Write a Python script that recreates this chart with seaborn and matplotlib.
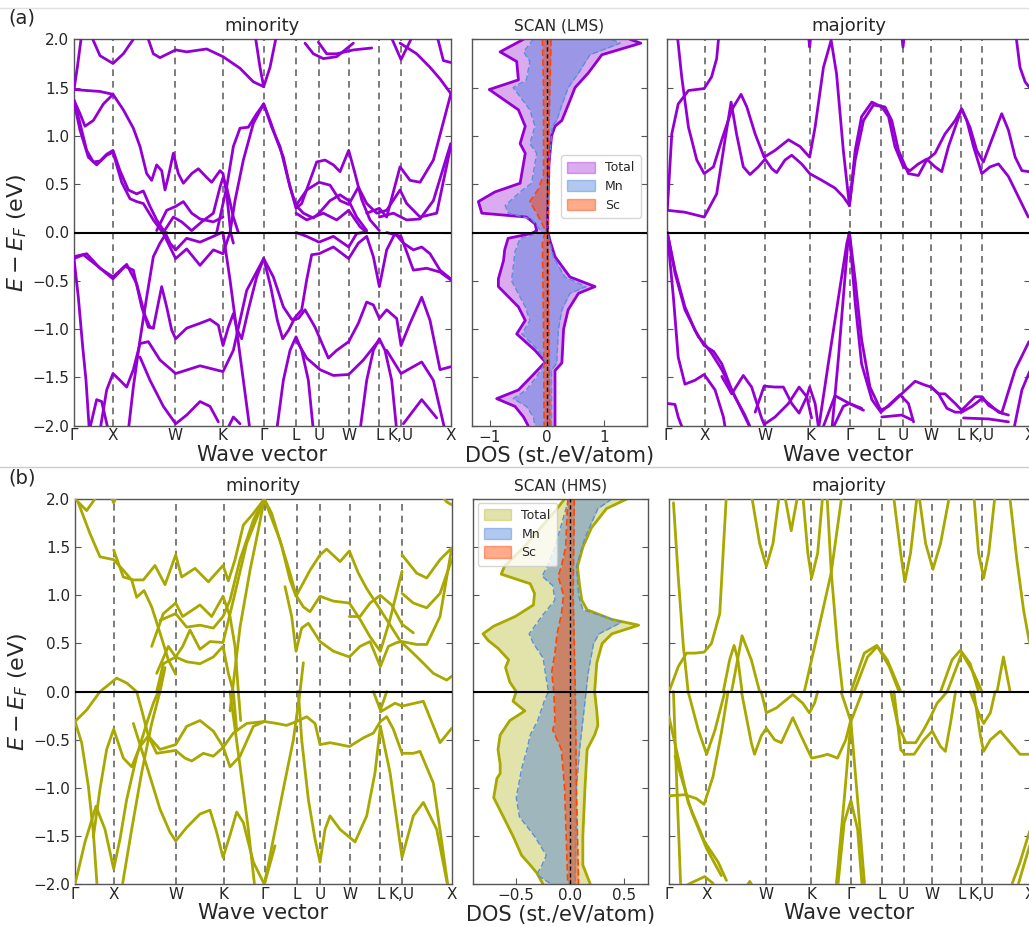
import matplotlib
matplotlib.use("Agg")
import matplotlib.pyplot as plt
import numpy as np
import pandas as pd
import seaborn as sns
from matplotlib.patches import Patch
from matplotlib.lines import Line2D

sns.set_style("white")
plt.rcParams['font.family'] = ['DejaVu Sans']
plt.rcParams['mathtext.fontset'] = 'dejavusans'
plt.rcParams['lines.solid_joinstyle'] = 'round'
plt.rcParams['lines.solid_capstyle'] = 'round'

# ---------------- k-path -----------------
kticks = [0, 1.17, 3.04, 4.46, 5.69, 6.66, 7.35, 8.24, 9.16, 9.81, 11.30]
klabels = ['Γ', 'X', 'W', 'K', 'Γ', 'L', 'U', 'W', 'L', 'K,U', 'X']
eticks = [-2.0, -1.5, -1.0, -0.5, 0.0, 0.5, 1.0, 1.5, 2.0]

# ---------------- bands (k, E) : (a) SCAN LMS minority -----------------
bands_min_a = [
    [(0,1.48),(.38,1.47),(.78,1.46),(1.17,1.43),(1.48,1.27),(1.78,1.08),(1.98,.89),(2.18,.61),(2.33,.54),(2.48,.70),(2.63,.64),(2.73,.44),(2.83,.58),(2.98,.82),(3.13,.61),(3.28,.51),(3.53,.61),(3.73,.66),(3.98,.57),(4.13,.52),(4.38,.64),(4.47,.61),(4.58,.40),(4.70,0.0),(4.78,-.11)],
    [(0,1.48),(.10,1.71),(.23,2.05)],
    [(0,1.37),(.18,1.23),(.33,1.10),(.58,1.16),(.88,1.33),(1.17,1.43)],
    [(.50,2.05),(.78,1.83),(1.17,1.75),(1.48,1.85),(1.88,2.05)],
    [(2.18,2.05),(2.38,1.85),(2.58,1.81),(3.05,1.89),(3.38,1.87),(3.98,1.90),(4.47,1.82),(4.98,1.70),(5.38,1.56),(5.69,1.51)],
    [(5.43,2.05),(5.58,1.71),(5.69,1.51),(5.88,1.71),(6.08,2.05)],
    [(6.93,1.96),(7.18,1.85),(7.48,1.80),(7.88,1.82),(8.38,1.96)],
    [(7.33,1.97),(7.58,1.85),(7.88,1.85),(8.38,1.89),(8.93,1.91)],
    [(9.78,1.96),(10.28,1.85),(10.68,1.71),(10.98,1.59),(11.30,1.44)],
    [(9.48,2.05),(9.81,1.79),(10.18,2.05)],
    [(10.88,2.05),(11.08,1.78),(11.30,1.76)],
    [(0,1.37),(.18,1.13),(.38,.85),(.58,.73),(.78,.74),(.98,.81),(1.17,.85),(1.38,.64),(1.63,.44),(1.88,.40),(2.08,.43),(2.28,.27),(2.48,.13),(2.73,0.0),(2.88,-.11),(3.05,-.18),(3.38,-.06),(3.78,-.10),(4.18,-.04),(4.43,0.0)],
    [(0,1.35),(.18,1.06),(.43,.78),(.68,.70),(.98,.80),(1.17,.83),(1.43,.52),(1.68,.35),(1.88,.32),(2.08,.30),(2.38,.13),(2.68,-.01),(3.05,-.27),(3.38,-.17),(3.78,-.34),(4.18,-.18),(4.47,-.22),(4.68,0.0),(4.83,.33),(5.08,.75),(5.38,1.13),(5.69,1.33)],
    [(2.48,.02),(2.78,.23),(3.05,.27),(3.28,.32),(3.53,.20),(3.78,.14),(4.18,.11),(4.47,.16)],
    [(2.68,0.0),(2.98,.16),(3.23,.11),(3.53,.02),(3.83,.11),(4.18,.20),(4.38,.47),(4.47,.57),(4.58,.47),(4.78,.16),(4.93,0.0)],
    [(4.28,0.0),(4.58,.47),(4.78,.89),(4.98,1.08),(5.23,1.09),(5.48,1.23),(5.69,1.33)],
    [(5.69,1.33),(5.88,1.16),(6.08,.96),(6.28,.78),(6.48,.47),(6.66,.28),(6.88,.20),(7.18,.15),(7.35,.20),(7.68,.33),(7.98,.39),(8.24,.33),(8.48,.16),(8.78,.02)],
    [(5.69,1.33),(5.93,1.09),(6.18,.89),(6.43,.54),(6.66,.25),(6.83,.30),(7.08,.54),(7.28,.73),(7.53,.75),(7.78,.70),(7.98,.63),(8.24,.85),(8.43,.61),(8.63,.34),(8.88,.13),(9.16,.02)],
    [(6.66,.28),(6.98,.44),(7.35,.52),(7.68,.49),(7.98,.33),(8.24,.29),(8.53,.47),(8.78,.30),(9.08,.20),(9.38,.23),(9.78,.44),(9.98,.30),(10.38,.16),(10.88,.20),(11.30,.89)],
    [(8.78,.20),(9.16,.25),(9.38,.16),(9.78,.68),(10.08,.54),(10.38,.52),(10.78,.75),(11.30,1.43)],
    [(9.16,.16),(9.58,.20),(9.98,.13),(10.38,.14),(10.78,.33),(11.30,.92)],
    [(6.66,.20),(6.98,.13),(7.48,.20),(7.88,.13),(8.24,.23),(8.58,.06),(8.78,0.0)],
    [(0,-.27),(.13,-.67),(.26,-1.18),(.36,-1.53),(.46,-2.05)],
    [(0,-.27),(.28,-.23),(.68,-.34),(1.17,-.48),(1.53,-.35),(1.78,-.39),(2.03,-.77),(2.23,-.98),(2.38,-.99),(2.53,-.73),(2.63,-.56),(2.78,-.77),(2.93,-1.01),(3.05,-1.10),(3.38,-.99),(3.78,-.94),(4.08,-.90),(4.33,-.96),(4.47,-1.17),(4.63,-.98),(4.78,-.84),(4.90,-1.01),(5.03,-1.10),(5.23,-.80),(5.48,-.46),(5.69,-.27)],
    [(0,-.25),(.38,-.22),(.78,-.37),(1.17,-.46),(1.58,-.33),(1.88,-.53),(2.13,-.86),(2.28,-.98),(2.38,-.99)],
    [(1.63,-2.05),(1.78,-1.60),(1.98,-1.11),(2.18,-.67),(2.38,-.25),(2.58,-.11),(2.78,0.0)],
    [(.46,-2.05),(.68,-1.73),(.83,-1.75),(1.03,-2.05)],
    [(.78,-2.05),(.98,-1.63),(1.17,-1.46),(1.38,-1.53),(1.58,-1.60),(1.78,-1.42),(1.98,-1.15),(2.23,-1.13),(2.58,-1.32),(3.05,-1.46),(3.78,-1.38),(4.47,-1.44),(4.78,-1.22),(5.18,-.60),(5.69,-.27)],
    [(1.98,-1.29),(2.28,-1.53),(2.68,-1.80),(3.05,-1.98),(3.38,-1.89),(3.78,-1.75),(4.08,-1.80),(4.33,-1.96)],
    [(4.58,-2.05),(4.78,-1.91),(4.98,-1.98)],
    [(4.47,0.0),(4.68,-.49),(4.88,-1.01),(5.08,-1.53),(5.28,-2.05)],
    [(6.08,-2.05),(6.28,-1.53),(6.48,-1.22),(6.66,-1.08),(6.83,-1.22),(7.03,-1.53),(7.18,-2.05)],
    [(8.58,-2.05),(8.78,-1.53),(8.98,-1.22),(9.16,-1.10),(9.33,-1.22),(9.53,-1.53),(9.68,-2.05)],
    [(6.66,-1.11),(6.98,-1.30),(7.38,-1.42),(7.78,-1.48),(8.24,-1.47),(8.68,-1.32),(9.16,-1.11)],
    [(5.69,-.27),(5.98,-.46),(6.28,-.77),(6.53,-.90),(6.73,-.89),(6.93,-.80),(7.23,-.98),(7.48,-1.18),(7.63,-1.30),(7.88,-1.22),(8.24,-1.13),(8.53,-.94),(8.78,-.72),(8.98,-.75),(9.16,-.89),(9.38,-.80),(9.68,-.89),(9.81,-1.17),(10.08,-.94),(10.43,-.67),(10.68,-.91),(10.98,-1.42),(11.30,-1.39)],
    [(5.69,-.27),(5.90,-.56),(6.10,-.91),(6.26,-1.10),(6.44,-1.01),(6.63,-.88),(6.83,-.80),(6.98,-.49),(7.13,-.23),(7.35,-.22),(7.78,-.15),(8.24,-.27),(8.53,-.11),(8.78,-.04),(8.98,-.25),(9.16,-.56),(9.38,-.18),(9.63,-.01),(9.88,-.11),(10.18,-.18),(10.43,-.15),(10.68,-.22),(10.98,-.39),(11.30,-.48)],
    [(6.66,0.0),(6.98,-.04),(7.35,-.10),(7.78,-.04),(8.24,-.15),(8.48,-.01),(8.68,0.0)],
    [(9.38,0.0),(9.81,-.04),(10.18,-.39),(10.58,-.37),(10.98,-.41),(11.30,-.49)],
    [(9.88,-1.98),(10.43,-1.73),(10.88,-1.92)],
    [(9.38,-1.22),(9.81,-1.46),(10.43,-1.34),(10.78,-1.53),(11.13,-2.05)],
]

# ---------------- (a) majority -----------------
bands_maj_a = [
    [(0,.23),(.55,.21),(1.15,.16),(1.54,.40),(1.80,.96),(1.99,1.35),(2.16,1.02),(2.37,.68),(2.58,.60),(2.84,.68),(3.05,.76),(3.26,.66),(3.41,.62),(3.67,.75),(3.88,.80),(4.19,.71),(4.44,.61),(4.82,.54),(5.23,.46),(5.49,.37),(5.68,.28)],
    [(.31,2.05),(.45,1.61),(.66,1.09),(.92,.75),(1.15,.61),(1.44,.68),(1.70,.96),(2.01,1.27),(2.30,1.43),(2.48,1.30),(2.74,1.02),(3.02,.78),(3.36,.85),(3.78,.96),(4.14,.89),(4.44,.78),(4.61,1.09),(4.87,1.71),(5.11,1.99),(5.28,1.64),(5.49,.85),(5.68,.28)],
    [(0,.23),(.14,1.02),(.34,1.33),(.66,1.47),(1.15,1.49),(1.38,1.61),(1.54,1.80),(1.61,2.05)],
    [(5.68,.28),(5.86,.85),(6.06,1.20),(6.38,1.35),(6.69,1.30),(6.90,1.20),(7.10,.89),(7.36,.68),(7.57,.64),(7.83,.71),(8.09,.76),(8.35,.68),(8.56,.63),(8.77,.89),(8.98,1.09),(9.18,1.28),(9.34,1.16),(9.55,.89),(9.81,.61),(10.07,.68),(10.33,.71),(10.64,.58),(10.95,.37),(11.26,.16)],
    [(5.68,.28),(5.86,.75),(6.12,1.16),(6.43,1.32),(6.79,1.30),(7.00,1.16),(7.21,.85),(7.52,.61),(7.83,.59),(8.09,.75),(8.35,.82),(8.66,1.02),(8.98,1.16),(9.18,1.28),(9.44,1.09),(9.65,.85),(9.86,.73),(10.12,.96),(10.43,1.23),(10.64,1.06),(10.85,.78),(11.06,.64),(11.28,.63)],
    [(10.87,2.05),(11.0,1.71),(11.16,1.56),(11.30,1.50)],
    [(4.40,2.05),(4.44,1.92),(4.48,2.05)],
    [(7.31,2.05),(7.35,1.92),(7.40,2.05)],
    [(0,0.0),(.24,-.39),(.55,-.77),(.86,-1.01),(1.15,-1.17),(1.44,-1.23),(1.70,-1.36),(2.01,-1.63),(2.32,-1.84),(2.63,-2.05)],
    [(0,0.0),(.24,-.42),(.55,-.80),(.97,-1.08),(1.15,-1.15),(1.38,-1.25),(1.70,-1.42),(2.11,-1.70),(2.42,-1.89),(2.63,-2.05)],
    [(0,0.0),(.19,-.67),(.34,-1.29),(.55,-1.57),(.86,-1.53),(1.15,-1.47),(1.49,-1.63),(1.75,-1.91),(1.82,-2.05)],
    [(0,-1.77),(.24,-1.78),(.34,-1.91),(.50,-2.05)],
    [(1.70,-1.49),(2.01,-1.67),(2.37,-1.48),(2.63,-1.60),(2.94,-1.92),(3.10,-2.05)],
    [(2.74,-1.86),(3.02,-1.59),(3.36,-1.60),(3.62,-1.60),(3.88,-1.77),(4.11,-1.87),(4.35,-1.70),(4.44,-1.60),(4.61,-1.77),(4.73,-2.05)],
    [(3.05,-1.98),(3.36,-1.91),(3.78,-1.77),(4.11,-1.60),(4.35,-1.70),(4.50,-1.92)],
    [(4.82,-2.05),(5.23,-1.69),(5.68,-1.77),(6.12,-1.84)],
    [(5.13,-2.05),(5.49,-1.80),(5.68,-1.77),(6.06,-1.82)],
    [(4.71,-2.05),(5.02,-1.36),(5.34,-.67),(5.60,-.11),(5.68,0.0)],
    [(5.13,-2.05),(5.34,-1.29),(5.49,-.67),(5.63,-.11),(5.68,0.0)],
    [(5.68,0.0),(5.86,-.49),(6.06,-1.11),(6.32,-1.60),(6.66,-1.84),(6.90,-1.80),(7.31,-1.67),(7.73,-1.54),(8.04,-1.58),(8.23,-1.60),(8.46,-1.67),(8.66,-1.67),(8.98,-1.77),(9.18,-1.84),(9.60,-1.70),(9.82,-1.70),(10.02,-1.79),(10.43,-1.87),(10.85,-1.42),(11.28,-1.13)],
    [(5.68,-.01),(5.86,-.73),(6.06,-1.36),(6.38,-1.73),(6.66,-1.86),(6.90,-1.79),(7.26,-1.68),(7.52,-1.77),(7.68,-1.96)],
    [(8.23,-1.60),(8.46,-1.67),(8.72,-1.82),(8.98,-1.86),(9.18,-1.86),(9.50,-1.80),(9.81,-1.72),(10.02,-1.77),(10.33,-1.86),(10.64,-1.89)],
    [(10.80,-2.05),(11.06,-1.63),(11.30,-1.44)],
    [(6.69,-1.91),(7.31,-1.89),(7.63,-1.94)],
    [(9.24,-1.92),(10.02,-1.93),(10.64,-1.96)],
]

# ---------------- (b) SCAN HMS minority -----------------
bands_min_b = [
    [(0,2.0),(.35,1.88),(.70,2.05)],
    [(1.05,2.05),(1.16,1.96),(1.27,2.05)],
    [(.10,1.96),(.45,1.64),(.75,1.40),(1.16,1.37),(1.45,1.26),(1.70,1.16),(1.85,.98),(2.07,1.05),(2.30,.88),(2.55,.61),(2.80,.33),(3.02,.18)],
    [(1.16,1.47),(1.45,1.19),(1.75,1.16),(2.05,1.16),(2.40,1.31),(2.70,1.11),(3.02,1.42),(3.20,1.19),(3.60,1.28),(4.00,1.14),(4.44,1.31),(4.60,1.15),(4.80,1.37),(5.05,1.73),(5.35,1.85),(5.68,2.0)],
    [(2.30,.47),(2.65,.81),(3.02,.92),(3.23,.78),(3.75,.90),(4.10,.78),(4.44,.99),(4.65,.78),(4.80,.47),(4.90,0.0),(4.97,-.3)],
    [(2.55,.74),(3.02,.81),(3.35,.67),(3.75,.69),(4.15,.66),(4.44,.78),(4.65,.95),(4.95,1.37),(5.35,1.78),(5.68,2.0)],
    [(2.45,.19),(2.80,.47),(3.02,.36),(3.23,.47),(3.45,.64),(3.75,.44),(4.05,.52),(4.44,.51),(4.75,.95),(5.15,1.54),(5.68,2.0)],
    [(2.45,0.0),(2.65,.29),(3.02,.36),(3.35,.31),(3.75,.29),(4.15,.36),(4.44,.47),(4.60,.19),(4.75,0.0),(4.85,-.4)],
    [(4.65,-.2),(4.72,0.0),(4.95,.67),(5.25,1.26),(5.50,1.68),(5.68,2.0)],
    [(5.68,2.0),(6.15,1.57),(6.45,1.23),(6.63,1.00),(6.85,.88),(7.05,.83),(7.35,.99),(7.75,.94),(8.23,.92),(8.55,.75),(8.85,.57),(9.16,.42),(9.45,.75),(9.81,1.25)],
    [(5.68,2.0),(5.90,1.85),(6.20,1.51),(6.45,1.16),(6.63,.99),(7.05,1.26),(7.35,1.42),(7.55,1.48),(7.95,1.35),(8.23,1.46),(8.50,1.23),(8.75,1.07),(9.16,.85),(9.75,.53),(10.35,.33),(10.75,.19),(11.15,.12),(11.30,.16)],
    [(6.30,1.09),(6.50,.78),(6.63,.42),(6.80,.66),(7.00,.71),(7.35,.52),(7.75,.42),(8.23,.36),(8.55,.47),(8.85,.52),(9.16,.26),(9.40,.47),(9.65,.51),(9.81,.52),(10.25,.49),(10.55,.49),(10.95,.78),(11.30,1.49)],
    [(8.23,.78),(8.55,.78),(8.85,.92),(9.16,1.0),(9.50,.90),(9.81,.70),(10.15,.61)],
    [(9.81,1.42),(10.25,1.23),(10.55,1.18),(10.95,1.37),(11.30,1.49)],
    [(9.81,1.02),(10.15,.92),(10.55,.87),(10.95,1.02),(11.30,1.37)],
    [(10.95,2.05),(11.15,1.97),(11.30,1.94)],
    [(0,-.31),(.20,-.53),(.40,-.98),(.55,-1.46),(.67,-2.05)],
    [(0,-.31),(.35,-.19),(.75,0.0),(1.25,.14),(1.55,.09),(1.85,0.0),(2.0,-.19),(2.2,-.46),(2.45,-.64),(3.02,-.61),(3.30,-.69),(3.50,-.72),(3.85,-.64),(4.15,-.67),(4.44,-.58),(4.75,-.43),(5.15,-.33),(5.68,-.31)],
    [(0,-2.0),(.30,-1.56),(.63,-1.19),(.90,-1.43),(1.16,-1.84),(1.35,-1.53),(1.55,-1.12),(1.85,-.67),(2.15,-.33),(2.35,-.12),(2.50,0.0),(2.65,.19)],
    [(.55,-1.51),(.75,-1.01),(.95,-.60),(1.16,-.39),(1.45,-.69),(1.70,-.78),(1.95,-.57),(2.20,-.46),(2.55,-.60),(3.02,-.55),(3.35,-.36),(3.75,-.30),(4.15,-.41),(4.44,-.57),(4.65,-.78),(4.95,-.67),(5.35,-.36),(5.68,-.31)],
    [(1.75,-.33),(2.15,-.77),(2.55,-1.22),(2.85,-1.46),(3.02,-1.55),(3.35,-1.41),(3.75,-1.27),(4.05,-1.23),(4.25,-1.46),(4.44,-1.72),(4.65,-1.49),(4.85,-1.25),(5.05,-1.36),(5.35,-1.77),(5.68,-2.0),(6.0,-1.6)],
    [(1.40,-2.05),(1.70,-1.43),(2.00,-.84),(2.30,-.33),(2.55,0.0),(2.70,.25)],
    [(4.65,0.0),(4.95,-.77),(5.20,-1.43),(5.40,-2.05)],
    [(5.68,-2.0),(5.95,-1.53),(6.25,-1.01),(6.55,-.50),(6.75,0.0),(6.85,.3)],
    [(5.68,-.31),(6.05,-.33),(6.35,-.35),(6.65,-.31),(6.95,-.26),(7.20,-.33),(7.35,-.55),(7.65,-.53),(7.95,-.55),(8.23,-.57),(8.65,-.48),(8.95,-.43),(9.16,-.31)],
    [(6.70,0.0),(6.80,-.50),(7.00,-1.12),(7.20,-1.53),(7.35,-1.77),(7.50,-1.43),(7.65,-1.29),(7.95,-1.43),(8.23,-1.51),(8.40,-1.56),(8.75,-1.29),(9.00,-.84),(9.16,-.36)],
    [(9.16,-.36),(9.45,-.84),(9.81,-1.72),(10.15,-1.29),(10.45,-1.15),(10.85,-1.43),(11.20,-2.05)],
    [(9.16,-.31),(9.35,-.26),(9.55,-.39),(9.81,-.64),(10.15,-.64),(10.35,-.62),(10.75,-.95),(11.20,-2.05)],
    [(9.16,-.21),(9.60,-.12),(9.81,-.15),(10.45,-.10),(10.95,-.53),(11.30,-.38)],
    [(8.95,0.0),(9.16,-.19),(9.35,0.0)],
]

# ---------------- (b) majority -----------------
bands_maj_b = [
    [(.14,1.96),(.29,1.19),(.45,.47),(.60,0.0),(.92,-.40),(1.18,-.65),(1.44,-.40),(1.75,0.0)],
    [(0,0.0),(.29,.26),(.55,.40),(.81,.40),(1.10,.41),(1.33,.50),(1.59,.81),(1.80,2.05)],
    [(1.70,0.0),(1.90,.33),(2.04,.48),(2.16,.33),(2.29,0.0)],
    [(1.96,0.0),(2.29,.58),(2.58,.33),(2.84,0.0)],
    [(2.58,2.05),(2.84,1.54),(3.05,1.30),(3.26,1.54),(3.46,2.05)],
    [(3.62,2.05),(3.83,1.67),(4.04,2.05)],
    [(4.19,2.05),(4.35,1.44),(4.47,1.18),(4.66,1.44),(4.82,2.05)],
    [(4.24,0.0),(4.66,.61),(5.08,1.23),(5.39,1.97),(5.42,2.05)],
    [(4.95,2.05),(5.08,1.26),(5.28,.47),(5.44,0.0)],
    [(5.70,0.0),(6.12,.40),(6.51,.48),(6.84,.33),(7.26,0.0)],
    [(5.80,0.0),(6.22,.36),(6.53,.47),(6.90,.26),(7.21,0.0)],
    [(7.03,2.05),(7.26,1.44),(7.39,1.14),(7.57,1.44),(7.78,2.05)],
    [(7.83,2.05),(8.04,1.54),(8.27,1.27),(8.51,1.54),(8.80,2.05)],
    [(8.51,0.0),(8.87,.33),(9.13,.43),(9.44,.29),(9.70,0.0)],
    [(8.72,0.0),(9.18,.40),(9.55,.19),(9.81,0.0)],
    [(9.55,2.05),(9.70,1.44),(9.86,1.18),(10.02,1.44),(10.22,2.05)],
    [(10.28,0.0),(10.48,.36),(10.69,0.0)],
    [(10.67,2.05),(10.90,1.37),(11.11,.85),(11.30,.50)],
    [(.03,-1.08),(.50,-1.07),(.86,-1.11),(1.10,-1.17),(1.38,-.88),(1.64,-.43),(1.85,0.0)],
    [(.14,0.0),(.21,-.67),(.29,-1.36),(.37,-2.05)],
    [(0,-.26),(.60,-1.15),(1.12,-1.56),(1.54,-1.77),(1.80,-1.96)],
    [(.19,-.67),(.71,-1.25),(1.18,-1.63),(1.64,-1.91)],
    [(.60,-2.0),(1.12,-1.92),(1.38,-1.99)],
    [(2.27,0.0),(2.58,-.53),(2.68,-.65),(2.89,-.46),(3.05,-.38),(3.31,-.50),(3.52,-.53),(3.88,-.27),(4.14,-.46),(4.47,-.69),(4.76,-.67),(4.97,-.65),(5.28,-.69),(5.54,-.50),(5.70,-.29)],
    [(2.89,0.0),(3.05,-.22),(3.36,-.17),(3.88,-.03),(4.19,-.12),(4.40,-.22),(4.56,-.12),(4.66,0.0)],
    [(5.39,0.0),(5.70,-.31),(5.91,-1.12),(6.14,-2.05)],
    [(5.23,-2.05),(5.49,-1.12),(5.70,-.31),(6.06,0.0)],
    [(5.28,-2.05),(5.49,-1.36),(5.70,-1.13),(5.91,-1.43),(6.06,-2.05)],
    [(6.95,0.0),(7.16,-.33),(7.42,-.53),(7.73,-.53),(7.99,-.39),(8.20,-.26),(8.40,-.12),(8.72,0.0)],
    [(7.05,0.0),(7.26,-.60),(7.39,-.65),(7.68,-.65),(7.99,-.50),(8.25,-.41),(8.51,-.57),(8.66,-.62),(8.82,-.33),(8.98,0.0)],
    [(9.44,0.0),(9.70,-.22),(9.86,-.33),(10.07,-.22),(10.22,0.0)],
    [(9.55,0.0),(9.76,-.46),(9.86,-.62),(10.07,-.50),(10.38,-.41),(10.69,-.53),(11.00,-.65),(11.30,-.65)],
    [(10.69,-2.05),(11.00,-1.77),(11.30,-1.45)],
    [(10.90,-2.05),(11.30,-1.60)],
    [(2.37,-2.05),(2.53,-1.97),(2.68,-2.05)],
]

# ---------------- DOS (E, value) -----------------
tot_a_dn = [(2.0,-0.41),(1.87,-0.82),(1.77,-0.53),(1.58,-0.50),(1.48,-1.01),(1.27,-0.50),(1.10,-0.38),(0.92,-0.47),(0.82,-0.38),(0.51,-0.47),(0.42,-0.91),(0.32,-1.20),(0.20,-1.14),(0.16,-0.36),(0.09,-0.21),(0.02,-0.18),(-0.01,-0.27),(-0.06,-0.68),(-0.18,-0.74),(-0.29,-0.76),(-0.48,-0.85),(-0.56,-0.85),(-0.77,-0.50),(-0.91,-0.38),(-1.05,-0.53),(-1.22,-0.21),(-1.34,-0.03),(-1.49,-0.27),(-1.63,-0.50),(-1.72,-0.88),(-1.80,-0.56),(-1.91,-0.41),(-2.0,-0.33)]
tot_a_up = [(2.0,1.45),(1.96,1.64),(1.84,0.96),(1.65,0.72),(1.5,0.49),(1.32,0.37),(1.16,0.26),(1.10,0.14),(1.0,0.08),(0.71,0.035),(0.37,0.02),(0.02,0.01),(-0.08,0.05),(-0.25,0.14),(-0.46,0.40),(-0.56,0.84),(-0.63,0.55),(-0.80,0.37),(-1.0,0.29),(-1.35,0.26),(-1.43,0.14),(-2.0,0.14)]
mn_a_dn = [(2.0,-0.24),(1.87,-0.41),(1.77,-0.30),(1.58,-0.36),(1.5,-0.59),(1.27,-0.30),(1.10,-0.21),(0.92,-0.30),(0.82,-0.18),(0.51,-0.27),(0.42,-0.47),(0.28,-0.73),(0.20,-0.68),(0.14,-0.27),(0.05,-0.15),(0.0,-0.09),(-0.06,-0.47),(-0.2,-0.56),(-0.5,-0.62),(-0.77,-0.38),(-0.91,-0.30),(-1.05,-0.44),(-1.22,-0.15),(-1.34,-0.02),(-1.49,-0.18),(-1.63,-0.36),(-1.72,-0.59),(-1.80,-0.36),(-1.91,-0.24),(-2.0,-0.21)]
mn_a_up = [(2.0,1.13),(1.96,1.28),(1.84,0.75),(1.65,0.55),(1.5,0.37),(1.32,0.26),(1.16,0.17),(1.1,0.09),(0.7,0.035),(0.0,0.006),(-0.25,0.11),(-0.46,0.31),(-0.56,0.68),(-0.63,0.40),(-0.8,0.26),(-1.0,0.20),(-1.35,0.17),(-1.43,0.08),(-2.0,0.08)]
sc_a_dn = [(2.0,-0.08),(1.5,-0.06),(0.6,-0.06),(0.45,-0.15),(0.32,-0.30),(0.2,-0.18),(0.05,-0.05),(0.0,-0.035),(-0.1,-0.08),(-1.0,-0.06),(-2.0,-0.05)]
sc_a_up = [(2.0,0.07),(1.5,0.05),(1.0,0.03),(0.0,0.02),(-1.0,0.03),(-2.0,0.05)]

tot_b_dn = [(2.0,-0.05),(1.9,-0.12),(1.5,-0.43),(1.3,-0.61),(1.22,-0.64),(1.12,-0.37),(1.02,-0.33),(0.9,-0.34),(0.78,-0.51),(0.68,-0.71),(0.60,-0.81),(0.53,-0.76),(0.45,-0.67),(0.33,-0.57),(0.25,-0.60),(0.1,-0.56),(0.0,-0.50),(-0.1,-0.53),(-0.2,-0.42),(-0.3,-0.56),(-0.45,-0.65),(-0.6,-0.67),(-0.75,-0.65),(-0.85,-0.65),(-0.9,-0.68),(-1.1,-0.71),(-1.3,-0.62),(-1.5,-0.53),(-1.7,-0.45),(-1.8,-0.37),(-1.88,-0.31),(-2.0,-0.25)]
tot_b_up = [(2.0,0.53),(1.9,0.34),(1.7,0.20),(1.5,0.12),(1.3,0.07),(1.1,0.09),(0.95,0.11),(0.85,0.16),(0.75,0.39),(0.69,0.64),(0.6,0.39),(0.5,0.30),(0.3,0.25),(0.0,0.23),(-0.2,0.25),(-0.35,0.26),(-0.45,0.23),(-0.6,0.16),(-1.0,0.14),(-1.5,0.12),(-1.8,0.12),(-2.0,0.19)]
mn_b_dn = [(2.0,-0.01),(1.85,-0.05),(1.5,-0.14),(1.3,-0.21),(1.2,-0.26),(1.1,-0.16),(0.95,-0.14),(0.8,-0.25),(0.6,-0.38),(0.5,-0.34),(0.35,-0.25),(0.2,-0.23),(0.0,-0.20),(-0.1,-0.24),(-0.3,-0.30),(-0.45,-0.37),(-0.6,-0.40),(-0.8,-0.45),(-1.1,-0.50),(-1.3,-0.47),(-1.5,-0.33),(-1.7,-0.22),(-1.8,-0.26),(-1.9,-0.31),(-2.0,-0.17)]
mn_b_up = [(2.0,0.39),(1.9,0.26),(1.6,0.14),(1.3,0.06),(1.0,0.08),(0.85,0.12),(0.72,0.48),(0.6,0.27),(0.5,0.22),(0.2,0.17),(0.0,0.15),(-0.3,0.12),(-0.6,0.09),(-1.0,0.06),(-2.0,0.05)]
sc_b_dn = [(2.0,-0.02),(1.5,-0.04),(1.3,-0.08),(1.2,-0.11),(1.0,-0.06),(0.8,-0.08),(0.6,-0.12),(0.4,-0.14),(0.2,-0.17),(0.0,-0.15),(-0.3,-0.14),(-0.4,-0.16),(-0.6,-0.08),(-1.0,-0.05),(-2.0,-0.02)]
sc_b_up = [(2.0,0.04),(1.0,0.03),(0.0,0.05),(-1.0,0.06),(-2.0,0.08)]

# ---------------- styling -----------------
C_A = '#9400D3'
C_B = '#A8A800'
C_MN = '#3c78d8'
C_SC = '#ff4500'
SPINE = '#555555'

W, H = 1029, 927
fig = plt.figure(figsize=(W / 100, H / 100), dpi=100)

def fa(x0, y0, x1, y1):
    return fig.add_axes([x0 / W, 1 - y1 / H, (x1 - x0) / W, (y1 - y0) / H])

def style(ax):
    for s in ax.spines.values():
        s.set_color(SPINE)
        s.set_linewidth(1.0)

def band_panel(ax, bands, color, title, ylab):
    rows = []
    for i, b in enumerate(bands):
        for j, (k, e) in enumerate(b):
            rows.append((i, j, k, e))
    df = pd.DataFrame(rows, columns=['band', 'order', 'k', 'E'])
    for k in kticks[1:-1]:
        ax.axvline(k, color='#666666', ls=(0, (4, 3)), lw=1.2, zorder=1)
    sns.lineplot(data=df, x='k', y='E', units='band', estimator=None, sort=False,
                 color=color, lw=2.0, ax=ax, legend=False, zorder=3)
    ax.axhline(0, color='black', lw=1.5, zorder=4)
    ax.set_xlim(kticks[0], kticks[-1])
    ax.set_ylim(-2, 2)
    ax.set_xticks(kticks)
    ax.set_xticklabels(klabels, fontsize=11)
    ax.set_yticks(eticks)
    ax.tick_params(axis='x', length=0, pad=2)
    ax.tick_params(axis='y', direction='in', left=True, right=True, length=4,
                   color=SPINE, labelsize=11, labelleft=ylab)
    ax.set_xlabel('Wave vector', fontsize=15, labelpad=1)
    if ylab:
        ax.set_yticklabels(['%.1f' % v if v >= 0 else '\u2212%.1f' % -v for v in eticks])
        ax.set_ylabel(r'$E - E_F$ (eV)', fontsize=16, labelpad=2)
    else:
        ax.set_ylabel('')
    ax.set_title(title, fontsize=13, pad=6)
    style(ax)

def side(ax, pts, fc, alpha, ec, ls, lw):
    E = [p[0] for p in pts]
    v = [p[1] for p in pts]
    ax.fill_betweenx(E, v, 0, color=fc, alpha=alpha, lw=0)
    sns.lineplot(x=v, y=E, sort=False, estimator=None, color=ec, ls=ls, lw=lw, ax=ax, legend=False)

def dos_panel(ax, tot, mn, sc, tcol, title, xlim, xt, xtl, legpos):
    side(ax, tot[0], tcol, 0.33, tcol, '-', 2.0)
    side(ax, tot[1], tcol, 0.33, tcol, '-', 2.0)
    side(ax, mn[0], C_MN, 0.4, '#5a8fd8', (0, (4, 2)), 1.0)
    side(ax, mn[1], C_MN, 0.4, '#5a8fd8', (0, (4, 2)), 1.0)
    side(ax, sc[0], C_SC, 0.45, C_SC, (0, (4, 2)), 1.2)
    side(ax, sc[1], C_SC, 0.45, C_SC, (0, (4, 2)), 1.2)
    ax.axvline(0, color='black', ls=(0, (3, 2)), lw=1.0, zorder=5)
    ax.axhline(0, color='black', lw=1.5, zorder=5)
    ax.set_xlim(*xlim)
    ax.set_ylim(-2, 2)
    ax.set_xticks(xt)
    ax.set_xticklabels(xtl, fontsize=11)
    ax.set_yticks(eticks)
    ax.tick_params(axis='y', direction='in', left=True, right=True, length=4,
                   color=SPINE, labelleft=False)
    ax.tick_params(axis='x', direction='in', bottom=True, length=4, color=SPINE, pad=3)
    ax.set_xlabel('DOS (st./eV/atom)', fontsize=15, labelpad=1)
    ax.set_ylabel('')
    ax.set_title(title, fontsize=11, pad=6)
    handles = [Patch(facecolor=tcol, edgecolor=tcol, alpha=0.33, label='Total'),
               Patch(facecolor=C_MN, edgecolor=C_MN, alpha=0.4, label='Mn'),
               Patch(facecolor=C_SC, edgecolor=C_SC, alpha=0.45, label='Sc')]
    ax.legend(handles=handles, loc='upper left', bbox_to_anchor=legpos, borderaxespad=0,
              fontsize=9, frameon=True, handlelength=2.2, handleheight=1.0,
              labelspacing=0.45, borderpad=0.5)
    style(ax)

# row (a)
ax1 = fa(74, 39.3, 450.7, 425.7)
ax2 = fa(472.3, 39.3, 646.7, 425.7)
ax3 = fa(667.3, 39.3, 1029.6, 425.7)
band_panel(ax1, bands_min_a, C_A, 'minority', True)
dos_panel(ax2, (tot_a_dn, tot_a_up), (mn_a_dn, mn_a_up), (sc_a_dn, sc_a_up), C_A,
          'SCAN (LMS)', (-1.306, 1.743), [-1, 0, 1], ['\u22121', '0', '1'], (0.51, 0.70))
band_panel(ax3, bands_maj_a, C_A, 'majority', False)

# row (b)
bx1 = fa(75, 499, 451.7, 884.3)
bx2 = fa(473.3, 499, 647.7, 884.3)
bx3 = fa(669, 499, 1029.6, 884.3)
band_panel(bx1, bands_min_b, C_B, 'minority', True)
dos_panel(bx2, (tot_b_dn, tot_b_up), (mn_b_dn, mn_b_up), (sc_b_dn, sc_b_up), C_B,
          'SCAN (HMS)', (-0.90, 0.724), [-0.5, 0.0, 0.5], ['\u22120.5', '0.0', '0.5'], (0.025, 0.99))
band_panel(bx3, bands_maj_b, C_B, 'majority', False)

fig.text(8 / W, 1 - 18 / H, '(a)', fontsize=14, ha='left', va='center')
fig.text(8 / W, 1 - 478 / H, '(b)', fontsize=14, ha='left', va='center')
fig.add_artist(Line2D([0, 1], [1 - 8 / H, 1 - 8 / H], color='#e0e0e0', lw=1))
fig.add_artist(Line2D([0, 1], [1 - 467 / H, 1 - 467 / H], color='#cccccc', lw=1))

fig.savefig('out.png', dpi=100)
